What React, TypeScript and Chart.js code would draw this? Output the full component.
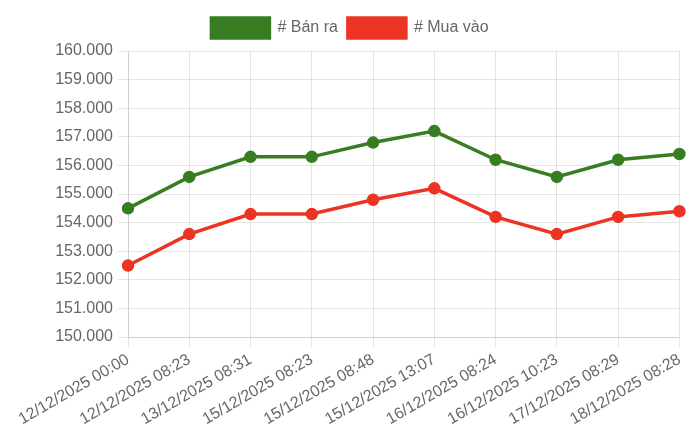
import React, { useEffect, useRef } from "react";
import { Chart, registerables } from "chart.js";

Chart.register(...registerables);

const labels = [
  "12/12/2025 00:00",
  "12/12/2025 08:23",
  "13/12/2025 08:31",
  "15/12/2025 08:23",
  "15/12/2025 08:48",
  "15/12/2025 13:07",
  "16/12/2025 08:24",
  "16/12/2025 10:23",
  "17/12/2025 08:29",
  "18/12/2025 08:28",
];

const banRa = [154500, 155600, 156300, 156300, 156800, 157200, 156200, 155600, 156200, 156400];
const muaVao = [152500, 153600, 154300, 154300, 154800, 155200, 154200, 153600, 154200, 154400];

const fmt = (v: number) => String(Math.round(v)).replace(/\B(?=(\d{3})+(?!\d))/g, ".");

const FONT = "'Liberation Sans', Arial, sans-serif";

const legendMargin = {
  id: "legendMargin",
  beforeInit(chart: any) {
    const orig = chart.legend.fit;
    chart.legend.fit = function () {
      orig.call(this);
      this.height += 3;
    };
  },
};

export default function App() {
  const ref = useRef<HTMLCanvasElement>(null);
  useEffect(() => {
    if (!ref.current) return;
    const green = "rgb(56,125,34)";
    const red = "rgb(236,52,36)";
    const chart = new Chart(ref.current, {
      type: "line",
      data: {
        labels,
        datasets: [
          {
            label: "# Bán ra",
            data: banRa,
            borderColor: green,
            backgroundColor: green,
            borderWidth: 3.5,
            pointRadius: 4.5,
            pointBackgroundColor: green,
            pointBorderColor: green,
            tension: 0,
          },
          {
            label: "# Mua vào",
            data: muaVao,
            borderColor: red,
            backgroundColor: red,
            borderWidth: 3.5,
            pointRadius: 4.5,
            pointBackgroundColor: red,
            pointBorderColor: red,
            tension: 0,
          },
        ],
      },
      plugins: [legendMargin],
      options: {
        animation: false,
        responsive: true,
        maintainAspectRatio: false,
        plugins: {
          legend: {
            labels: {
              boxWidth: 58,
              boxHeight: 20,
              color: "#666",
              font: { family: FONT, size: 16 },
            },
          },
          tooltip: { enabled: false },
        },
        scales: {
          x: {
            ticks: {
              minRotation: 30,
              maxRotation: 30,
              color: "#666",
              font: { family: FONT, size: 16 },
            },
            grid: { color: "rgba(0,0,0,0.1)", tickLength: 10 },
          },
          y: {
            min: 150000,
            max: 160000,
            afterFit: (axis: any) => {
              axis.width = 120;
            },
            ticks: {
              stepSize: 1000,
              padding: 5,
              color: "#666",
              font: { family: FONT, size: 16 },
              callback: (v: any) => fmt(Number(v)),
            },
            grid: { color: "rgba(0,0,0,0.1)", tickLength: 10 },
          },
        },
      },
    });
    return () => chart.destroy();
  }, []);
  return (
    <div style={{ width: 684, height: 424, position: "relative" }}>
      <canvas ref={ref} />
    </div>
  );
}
